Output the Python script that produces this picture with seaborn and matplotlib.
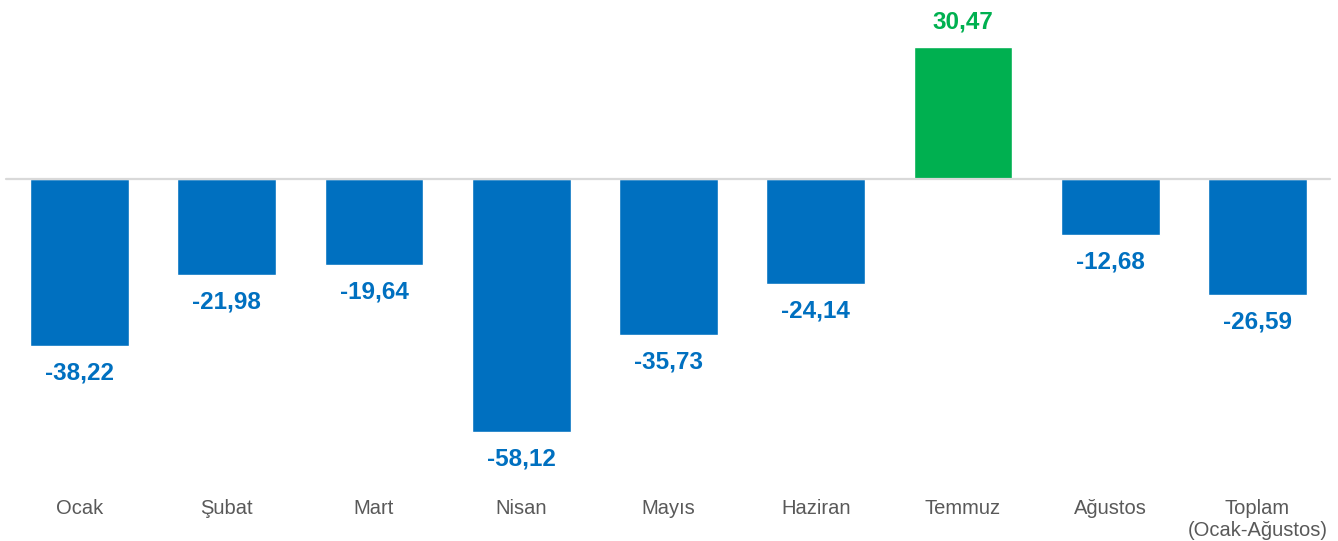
import matplotlib
matplotlib.use("Agg")
import matplotlib.pyplot as plt
import seaborn as sns

months = ["Ocak", "Şubat", "Mart", "Nisan", "Mayıs", "Haziran", "Temmuz",
          "Ağustos", "Toplam\n(Ocak-Ağustos)"]
values = [-38.22, -21.98, -19.64, -58.12, -35.73, -24.14, 30.47, -12.68, -26.59]

BLUE = "#0070C0"
GREEN = "#00B050"
GRAY_TEXT = "#595959"

sns.set_theme(style="white")
plt.rcParams["font.family"] = ["Liberation Sans", "DejaVu Sans"]

colors = [GREEN if v > 0 else BLUE for v in values]
palette = dict(zip(months, colors))

fig = plt.figure(figsize=(13.38, 5.41), dpi=100)
ax = fig.add_axes([0, 0, 1, 1])

sns.barplot(x=months, y=values, hue=months, palette=palette, legend=False,
            width=0.67, saturation=1, ax=ax, zorder=2)

ax.set_xlim(-0.54, 8.547)
ax.set_ylim(-83.2, 41.3)
ax.axhline(0, xmin=6 / 1338, xmax=1330 / 1338, color="#D9D9D9", lw=1.6, zorder=3)

for i, (v, c) in enumerate(zip(values, colors)):
    label = f"{v:.2f}".replace(".", ",")
    offset = 18 if v > 0 else -19.5
    ax.annotate(label, (i, v), xytext=(0, offset), textcoords="offset points",
                ha="center", va="center", fontsize=17.5, fontweight="bold", color=c)

for i, m in enumerate(months):
    ax.text(i, -73.5, m, ha="center", va="top", fontsize=14.5,
            color=GRAY_TEXT, linespacing=1.18)

ax.axis("off")
fig.savefig("out.png", dpi=100)
plt.close(fig)
